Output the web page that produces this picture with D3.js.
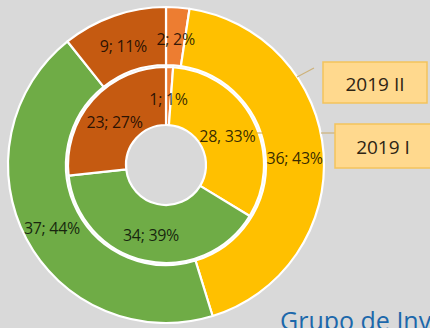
<!DOCTYPE html>
<html>
<head>
<meta charset="utf-8">
<script src="https://cdn.jsdelivr.net/npm/d3@7"></script>
<style>
  html, body { margin: 0; padding: 0; background: #d9d9d9; }
  svg { display: block; }
  text { font-family: "Open Sans", "Noto Sans", sans-serif; }
</style>
</head>
<body>
<svg id="chart" width="430" height="328"></svg>
<script>
// Two series of a nested doughnut: inner ring = 2019 I, outer ring = 2019 II
const categories = ["Cat. 1", "Cat. 2", "Cat. 3", "Cat. 4"];
const colors = ["#ED7D31", "#FFC000", "#6FAC46", "#C55A11"];
const values2019I = [1, 28, 34, 23];
const percent2019I = [1, 33, 39, 27];
const values2019II = [2, 36, 37, 9];
const percent2019II = [2, 43, 44, 11];
const seriesNames = ["2019 I", "2019 II"];
// label separators as printed on each ring
const sep2019I = ["; ", ", ", "; ", "; "];
const sep2019II = ["; ", "; ", "; ", "; "];

const W = 430, H = 328;
const cx = 166, cy = 165;
const svg = d3.select("#chart");

svg.append("rect").attr("width", W).attr("height", H).attr("fill", "#d9d9d9");

const g = svg.append("g").attr("transform", `translate(${cx},${cy})`);

const pie = d3.pie().sort(null).startAngle(0).endAngle(2 * Math.PI).value(d => d.value);

const rings = [
  { name: seriesNames[0], values: values2019I, pct: percent2019I, sep: sep2019I, r0: 40, r1: 98 },
  { name: seriesNames[1], values: values2019II, pct: percent2019II, sep: sep2019II, r0: 100, r1: 158 }
];

rings.forEach(ring => {
  const data = ring.values.map((v, i) => ({ value: v, pct: ring.pct[i], cat: categories[i], i }));
  const arcs = pie(data);
  const arc = d3.arc().innerRadius(ring.r0).outerRadius(ring.r1);
  const mid = (ring.r0 + ring.r1) / 2;
  const labelArc = d3.arc().innerRadius(mid).outerRadius(mid);

  g.append("g").selectAll("path").data(arcs).join("path")
    .attr("d", arc)
    .attr("fill", d => colors[d.data.i])
    .attr("stroke", "#ffffff")
    .attr("stroke-width", 2.2)
    .attr("stroke-linejoin", "round");

  g.append("g").selectAll("text").data(arcs).join("text")
    .attr("transform", d => {
      const [x, y] = labelArc.centroid(d);
      return `translate(${x},${y + 3})`;
    })
    .attr("text-anchor", "middle")
    .attr("dominant-baseline", "central")
    .attr("font-size", 16)
    .attr("fill", "#000000")
    .attr("fill-opacity", 0.8)
    .attr("letter-spacing", -0.3)
    .text(d => `${d.data.value}${ring.sep[d.data.i]}${d.data.pct}%`);
});

// Series-name callouts with leader lines
const callouts = svg.append("g");
const leader = "#cdb27a";
callouts.append("line").attr("x1", 297).attr("y1", 77).attr("x2", 314).attr("y2", 68)
  .attr("stroke", leader).attr("stroke-width", 1.2);
callouts.append("line").attr("x1", 256).attr("y1", 133).attr("x2", 263).attr("y2", 133)
  .attr("stroke", "#d9a830").attr("stroke-width", 1);
callouts.append("line").attr("x1", 321).attr("y1", 133).attr("x2", 335).attr("y2", 133)
  .attr("stroke", leader).attr("stroke-width", 1.2);

const boxes = [
  { text: seriesNames[1], x: 323, y: 62, w: 104, h: 41, tx: 52 },
  { text: seriesNames[0], x: 335, y: 124, w: 100, h: 44, tx: 48 }
];
boxes.forEach(b => {
  callouts.append("rect")
    .attr("x", b.x).attr("y", b.y).attr("width", b.w).attr("height", b.h)
    .attr("fill", "#FFD98E").attr("stroke", "#F4C35C").attr("stroke-width", 1.5);
  callouts.append("text")
    .attr("x", b.x + b.tx)
    .attr("y", b.y + b.h / 2 + 1)
    .attr("text-anchor", "middle")
    .attr("dominant-baseline", "central")
    .attr("font-size", 19)
    .attr("fill", "#2e2414")
    .text(b.text);
});

svg.append("text")
  .attr("x", 280).attr("y", 330)
  .attr("font-family", "'Liberation Sans', Arial, sans-serif")
  .attr("font-size", 25)
  .attr("fill", "#1C68AB")
  .text("Grupo de Investigación");
</script>
</body>
</html>
